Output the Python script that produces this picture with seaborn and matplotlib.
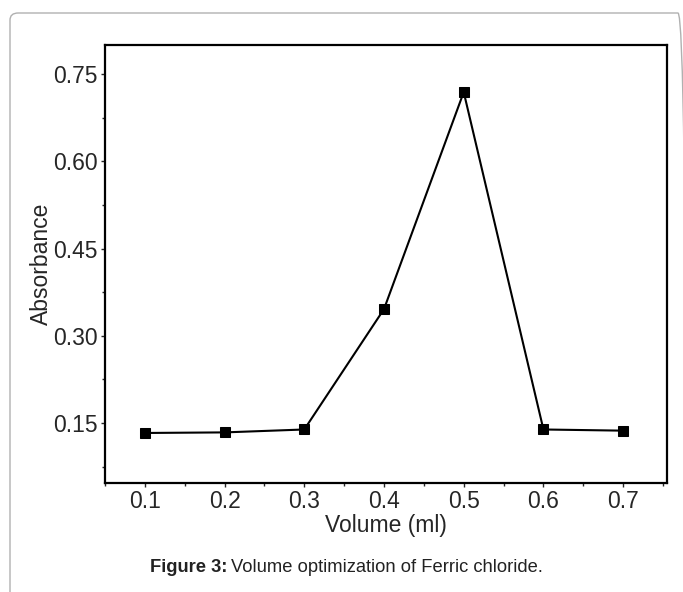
import numpy as np
import pandas as pd
import matplotlib
matplotlib.use("Agg")
import matplotlib.pyplot as plt
import seaborn as sns
from matplotlib.patches import FancyBboxPatch
from matplotlib.ticker import MultipleLocator

# data
volume = [0.1, 0.2, 0.3, 0.4, 0.5, 0.6, 0.7]
absorbance = [0.133, 0.134, 0.139, 0.346, 0.719, 0.139, 0.137]
x_ticks = [0.1, 0.2, 0.3, 0.4, 0.5, 0.6, 0.7]
y_ticks = [0.15, 0.30, 0.45, 0.60, 0.75]

df = pd.DataFrame({"Volume": volume, "Absorbance": absorbance})

sns.set_style("white")
plt.rcParams["font.family"] = ["Liberation Sans", "DejaVu Sans"]

W, H = 683, 592
fig = plt.figure(figsize=(W / 100, H / 100), dpi=100)
ax = fig.add_axes([105 / W, 1 - 483 / H, (667 - 105) / W, (483 - 45) / H])

# outer rounded frame
frame = FancyBboxPatch((10 / W, -0.05), 0.99, 1 - 13 / H + 0.05,
                       boxstyle="round,pad=0,rounding_size=0.012",
                       transform=fig.transFigure, fill=False,
                       edgecolor="#b0b0b0", linewidth=1.0, zorder=-1)
fig.patches.append(frame)

sns.lineplot(data=df, x="Volume", y="Absorbance", ax=ax, color="black",
             linewidth=1.5, marker="s", markersize=7.5, markeredgecolor="black",
             markerfacecolor="black")

ax.set_xlim(0.05, 0.755)
ax.set_ylim(0.047, 0.80)
ax.set_xticks(x_ticks)
ax.set_xticklabels([f"{v:.1f}" for v in x_ticks])
ax.set_yticks(y_ticks)
ax.set_yticklabels([f"{v:.2f}" for v in y_ticks])
ax.yaxis.set_minor_locator(MultipleLocator(0.075))
ax.xaxis.set_minor_locator(MultipleLocator(0.05))
ax.tick_params(axis="both", which="major", length=3, width=1, labelsize=16.5,
               direction="out", bottom=True, left=True, pad=2)
ax.tick_params(axis="both", which="minor", length=2, width=1,
               direction="out", bottom=True, left=True)

for s in ax.spines.values():
    s.set_visible(True)
    s.set_color("black")
    s.set_linewidth(1.6)

ax.set_xlabel("Volume (ml)", fontsize=16.5, labelpad=1)
ax.set_ylabel("Absorbance", fontsize=16.5, labelpad=0)

# caption: bold part + regular part
cap_y = 1 - 567 / H
fig.text(227 / W, cap_y, "Figure 3:", ha="right", va="center",
         fontsize=13.2, fontweight="bold", color="#222222")
fig.text(231 / W, cap_y, "Volume optimization of Ferric chloride.", ha="left",
         va="center", fontsize=13.2, color="#222222")

fig.savefig("out.png", dpi=100)
